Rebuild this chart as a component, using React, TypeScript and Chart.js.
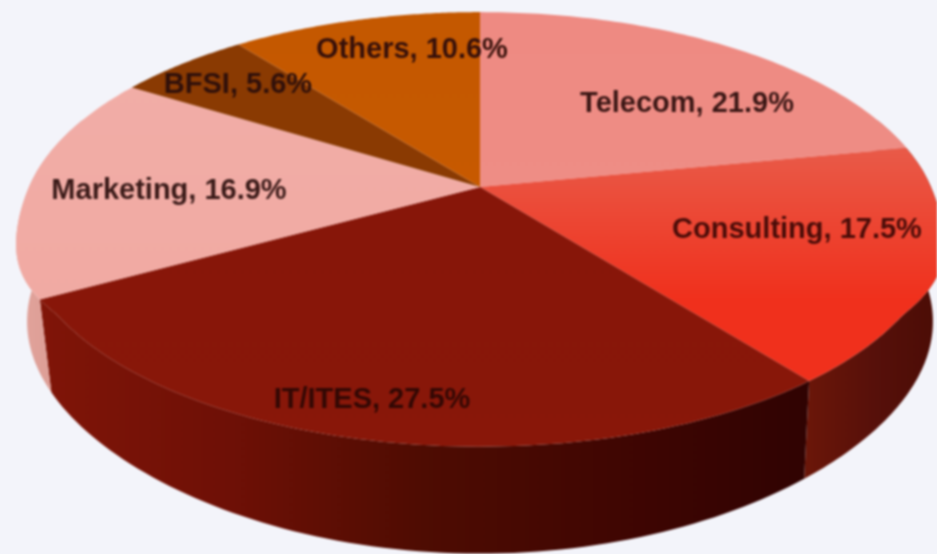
import React, { useEffect, useRef } from "react";
import { Chart, PieController, ArcElement } from "chart.js";

const categories = ["Telecom", "Consulting", "IT/ITES", "Marketing", "BFSI", "Others"];
const shares = [21.9, 17.5, 27.5, 16.9, 5.6, 10.6];

// Styling and layout, kept apart from the data
const topColors = [
  ["#ee8a82", "#f0928a"],
  ["#e95a48", "#f0301c"],
  ["#86160a", "#891709"],
  ["#f2aea8", "#f0a8a0"],
  ["#8a3a02", "#8a3a02"],
  ["#c45800", "#cc5c00"],
];
const wallStops: string[][] = [
  ["#c0605a", "#c0605a"],
  ["#6a1609", "#56100a", "#4a0c05"],
  ["#801508", "#6e1006", "#4e0c02", "#400602", "#300302"],
  ["#e2a49c", "#d89890"],
  ["#5a2400", "#5a2400"],
  ["#803800", "#803800"],
];
const labelCentres = [
  [687, 104],
  [797, 230],
  [372, 400],
  [169, 191],
  [238, 85],
  [412, 50],
];
const labelColors = ["#3a1614", "#4a0c08", "#320804", "#3a1a18", "#30100a", "#36100a"];

const APEX_X = 480;
const APEX_Y = 187;
const RX = 451;
const RY = 209;
const PERSPECTIVE = 0.195;

function rimPoint(angle: number): [number, number] {
  const u = Math.cos(angle);
  const v = Math.sin(angle);
  const w = 1 - PERSPECTIVE * v;
  return [APEX_X + (RX * u) / w, APEX_Y + (RY * v) / w];
}
function topPoint(angle: number): [number, number] {
  const [x, y] = rimPoint(angle);
  const v = Math.sin(angle);
  const bulge = v > 0 && v < 0.55 ? 8 * Math.sin(Math.PI * (v / 0.55) * (v / 0.55)) : 0;
  return [x + Math.sign(Math.cos(angle)) * bulge, y];
}
function bottomPoint(angle: number): [number, number] {
  const [x, y] = rimPoint(angle);
  const v = Math.max(0, Math.sin(angle));
  return [APEX_X + (x - APEX_X) * 0.985, y + 92 + 15 * v * v * v * v];
}

ArcElement.prototype.draw = function (this: any, ctx: CanvasRenderingContext2D) {
  const { startAngle, endAngle } = this;
  ctx.save();
  ctx.beginPath();
  ctx.moveTo(APEX_X, APEX_Y);
  const steps = 80;
  for (let i = 0; i <= steps; i++) {
    const [x, y] = topPoint(startAngle + ((endAngle - startAngle) * i) / steps);
    ctx.lineTo(x, y);
  }
  ctx.closePath();
  ctx.fillStyle = this.options.backgroundColor;
  ctx.fill();
  ctx.restore();
};

const depthPlugin = {
  id: "depth",
  beforeDraw(chart: any) {
    const { ctx, width, height } = chart;
    ctx.save();
    ctx.fillStyle = "#f3f4fa";
    ctx.fillRect(0, 0, width, height);
    ctx.restore();
  },
  beforeDatasetsDraw(chart: any) {
    const { ctx } = chart;
    const arcs = chart.getDatasetMeta(0).data;
    const lo = (-20 * Math.PI) / 180;
    const hi = Math.PI + (20 * Math.PI) / 180;
    arcs.forEach((arc: any, index: number) => {
      const start = Math.max(arc.startAngle, lo);
      const end = Math.min(arc.endAngle, hi);
      if (end <= start) return;
      const pts: [number, number][] = [];
      const back: [number, number][] = [];
      const steps = 80;
      for (let i = 0; i <= steps; i++) {
        const a = start + ((end - start) * i) / steps;
        pts.push(topPoint(a));
        back.push(bottomPoint(a));
      }
      const xs = pts.map((p) => p[0]);
      const g = ctx.createLinearGradient(Math.min(...xs), 0, Math.max(...xs), 0);
      const stops = wallStops[index];
      stops.forEach((c, i) => g.addColorStop(i / (stops.length - 1), c));
      ctx.save();
      ctx.beginPath();
      pts.forEach((p, i) => (i ? ctx.lineTo(p[0], p[1]) : ctx.moveTo(p[0], p[1])));
      back.reverse().forEach((p) => ctx.lineTo(p[0], p[1]));
      ctx.closePath();
      ctx.fillStyle = g;
      ctx.fill();
      ctx.restore();
    });
  },
  afterDatasetsDraw(chart: any) {
    const { ctx } = chart;
    const labels: string[] = chart.data.labels;
    const values: number[] = chart.data.datasets[0].data;
    ctx.save();
    ctx.font = 'bold 29px "Liberation Sans", Arial, sans-serif';
    ctx.textAlign = "center";
    ctx.textBaseline = "middle";
    labels.forEach((name, i) => {
      ctx.fillStyle = labelColors[i];
      ctx.fillText(`${name}, ${values[i].toFixed(1)}%`, labelCentres[i][0], labelCentres[i][1]);
    });
    ctx.restore();
  },
};

Chart.register(PieController, ArcElement);

export default function App() {
  const ref = useRef<HTMLCanvasElement>(null);
  useEffect(() => {
    document.body.style.margin = "0";
    document.body.style.background = "#f3f4fa";
    const canvas = ref.current!;
    const ctx = canvas.getContext("2d")!;
    const fills = topColors.map((pair, i) => {
      const g = ctx.createLinearGradient(0, i === 1 ? 150 : 12, 0, i === 1 ? 300 : 450);
      g.addColorStop(0, pair[0]);
      g.addColorStop(1, pair[1]);
      return g;
    });
    const chart = new Chart(canvas, {
      type: "pie",
      data: {
        labels: categories,
        datasets: [{ data: shares, backgroundColor: fills, borderWidth: 0 }],
      },
      options: {
        animation: false,
        responsive: false,
        devicePixelRatio: 1,
        plugins: { legend: { display: false }, tooltip: { enabled: false } } as any,
      },
      plugins: [depthPlugin],
    } as any);
    return () => chart.destroy();
  }, []);
  return (
    <canvas
      ref={ref}
      width={937}
      height={554}
      style={{ position: "fixed", left: 0, top: 0, width: 937, height: 554, filter: "blur(0.8px)" }}
    />
  );
}
